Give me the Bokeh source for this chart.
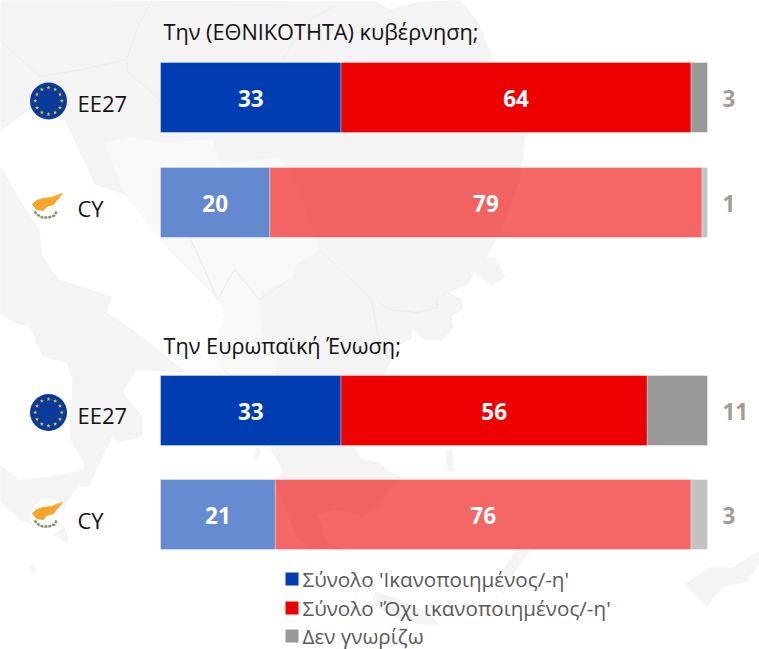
import numpy as np
from bokeh.embed import file_html
from bokeh.resources import INLINE
from bokeh.plotting import figure
from bokeh.models import Range1d, ColumnDataSource
from bokeh.core.properties import value

# ---------- data ----------
row_labels = ["EE27", "CY", "EE27", "CY"]
satisfied = [33, 20, 33, 21]
not_satisfied = [64, 79, 56, 76]
dont_know = [3, 1, 11, 3]
group_titles = ["Την (ΕΘΝΙΚΟΤΗΤΑ) κυβέρνηση;", "Την Ευρωπαϊκή Ένωση;"]
legend_labels = ["Σύνολο 'Ικανοποιημένος/-η'", "Σύνολο 'Όχι ικανοποιημένος/-η'", "Δεν γνωρίζω"]

# ---------- style / layout (page pixels) ----------
W, H = 759, 649
X0, X100 = 161, 708
ROW_Y = [98, 203, 411, 515]
BAR_H = 70
ROW_ALPHA = [1, 0.6, 1, 0.6]
BLUE, RED, GREY = "#003DB2", "#EE0000", "#999999"
LAND, LAND2, BORDER = "#F4F4F4", "#F9F9F9", "#ECECEC"
FONT = value("Open Sans")
NUDGE = 1  # the page renders one pixel right and down of the nominal layout

scale = (X100 - X0) / 100
p = figure(width=W, height=H, output_backend="svg", toolbar_location=None,
           x_range=Range1d((NUDGE - X0) / scale, (W + NUDGE - X0) / scale),
           y_range=Range1d(H + NUDGE, NUDGE), min_border=0,
           background_fill_color="white", border_fill_color="white")
p.axis.visible = False
p.grid.visible = False
p.outline_line_color = None
p.extra_x_ranges = {"px": Range1d(NUDGE, W + NUDGE)}

# ---------- decorative map backdrop ----------
def blob(pts, color=LAND):
    xs, ys = zip(*pts)
    p.patch(list(xs), list(ys), x_range_name="px", fill_color=color, line_color=None)

blob([(0, 0), (328, 2), (377, 2), (390, 10), (417, 3), (460, 0), (477, 20), (493, 57), (527, 130), (520, 182),
      (497, 240), (487, 258), (495, 258), (506, 277), (492, 286), (475, 273), (468, 285), (452, 292), (448, 292),
      (462, 300), (464, 309), (452, 317), (454, 328), (443, 341), (423, 340), (413, 328), (412, 340), (400, 345),
      (385, 375), (353, 447), (363, 460), (380, 463), (390, 472), (403, 477), (393, 485), (383, 503), (363, 517),
      (337, 510), (318, 515), (327, 543), (350, 553), (310, 547), (297, 537), (290, 520), (283, 500), (275, 480),
      (283, 472), (277, 460), (270, 448), (240, 400), (227, 377), (218, 362), (220, 333), (225, 317), (220, 302),
      (192, 273), (163, 243), (125, 195), (95, 185), (72, 135), (65, 120), (30, 110), (0, 133)])
blob([(105, 143), (130, 137), (165, 143), (213, 140), (222, 165), (280, 157), (300, 190), (320, 250), (297, 265),
      (293, 280), (262, 292), (260, 300), (262, 330), (277, 360), (277, 378), (233, 377), (218, 362), (220, 333),
      (225, 317), (220, 302), (192, 273), (163, 243), (125, 195)], LAND2)
blob([(0, 165), (20, 200), (40, 230), (43, 257), (60, 280), (113, 297), (107, 313), (133, 330), (187, 373),
      (137, 370), (123, 393), (143, 417), (143, 437), (120, 443), (113, 437), (100, 463), (90, 487), (80, 487),
      (85, 465), (70, 440), (73, 380), (67, 363), (43, 357), (30, 327), (13, 323), (0, 313)])
blob([(0, 465), (20, 480), (50, 477), (90, 470), (67, 503), (62, 517), (70, 545), (50, 533), (20, 520), (0, 502)])
blob([(759, 552), (733, 568), (710, 568), (685, 585), (707, 607), (723, 588), (747, 582), (759, 565)])
blob([(376, 592), (400, 600), (430, 615), (440, 625), (420, 625), (395, 618), (372, 605)])
blob([(533, 550), (520, 565), (503, 595), (497, 582), (507, 565), (517, 550)])
blob([(447, 450), (453, 452), (455, 472), (449, 472), (446, 460)])
blob([(30, 565), (36, 568), (37, 575), (32, 573)])
blob([(257, 448), (262, 451), (258, 462), (254, 458)])
for line in [
    [(153, 0), (137, 30), (127, 60), (83, 70), (40, 77), (0, 40)],
    [(127, 60), (128, 72), (160, 100)],
    [(338, 5), (310, 20), (283, 60)],
    [(380, 303), (390, 310), (417, 313), (438, 308), (437, 300), (448, 292)],
    [(380, 345), (372, 300), (320, 250)],
    [(190, 237), (205, 270), (218, 300)],
    [(218, 300), (235, 270), (260, 300)],
    [(260, 300), (290, 280)],
]:
    xs, ys = zip(*line)
    p.line(list(xs), list(ys), x_range_name="px", line_color=BORDER, line_width=1)

# ---------- stacked bars ----------
sat = np.array(satisfied, float)
nots = np.array(not_satisfied, float)
dk = np.array(dont_know, float)
for left, right, color in [(0 * sat, sat, BLUE), (sat, sat + nots, RED), (sat + nots, sat + nots + dk, GREY)]:
    src = ColumnDataSource(dict(y=ROW_Y, left=left, right=right, a=ROW_ALPHA))
    p.hbar(y="y", left="left", right="right", height=BAR_H, source=src,
           fill_color=color, fill_alpha="a", line_color="white", line_alpha=0.35, line_width=1)

def txt(xs, ys, labels, color, size, style="normal", align="left", rng="px"):
    p.text(x=xs, y=ys, text=labels, text_font=FONT, text_font_size=size, text_color=color,
           text_font_style=style, text_align=align, text_baseline="middle", x_range_name=rng)

row_mid = [y + 1 for y in ROW_Y]
txt(list(sat / 2), row_mid, [str(v) for v in satisfied], "white", "22.5px", "bold", "center", "default")
txt(list(sat + nots / 2), row_mid, [str(v) for v in not_satisfied], "white", "22.5px", "bold", "center", "default")
txt([723] * 4, row_mid, [str(v) for v in dont_know], "#A89A8E", "22.5px", "bold")

# ---------- row labels and titles ----------
txt([78] * 4, [103.5, 208.5, 415.5, 520], row_labels, "#111111", "22px")
txt([164, 164], [32, 346], group_titles, "#111111", "21.7px")

# ---------- flags ----------
eu_y = [101.5, 413]
p.scatter([49, 49], eu_y, x_range_name="px", marker="circle", size=37, fill_color="#0A3A9A", line_color=None)
ang = np.arange(12) * np.pi / 6
for cy_ in eu_y:
    p.scatter(49 + 13.3 * np.cos(ang), cy_ + 13.3 * np.sin(ang), x_range_name="px", marker="star",
              size=4.5, fill_color="#E8C52A", line_color=None)
isl_x = np.array([33, 37, 44, 52, 63, 57, 54, 47, 44, 37]) - 49.0
isl_y = np.array([205, 201, 199, 198, 194, 201, 205, 207, 211, 210]) - 208.0
br_x = np.array([35, 39, 43, 49, 55, 57]) - 49.0
br_y = np.array([212, 216, 218, 218, 216, 212]) - 208.0
for cy_ in [208, 517]:
    p.scatter([49], [cy_], x_range_name="px", marker="circle", size=36, fill_color="white", line_color=None)
    p.patch(49 + isl_x, cy_ + isl_y, x_range_name="px", fill_color="#F7A62B", line_color="#F7A62B", line_width=1)
    p.line(49 + br_x, cy_ + br_y, x_range_name="px", line_color="#7F9270", line_width=2.4, line_dash="3 1")

# ---------- legend ----------
leg_mid = [579, 608, 636]
for mid, color in zip(leg_mid, [BLUE, RED, GREY]):
    p.scatter([292.5], [mid + 0.5], x_range_name="px", marker="square", size=13, fill_color=color, line_color=None)
txt([303] * 3, leg_mid, legend_labels, "#595959", "20.6px")

open("out.html", "w").write(file_html(p, INLINE))
